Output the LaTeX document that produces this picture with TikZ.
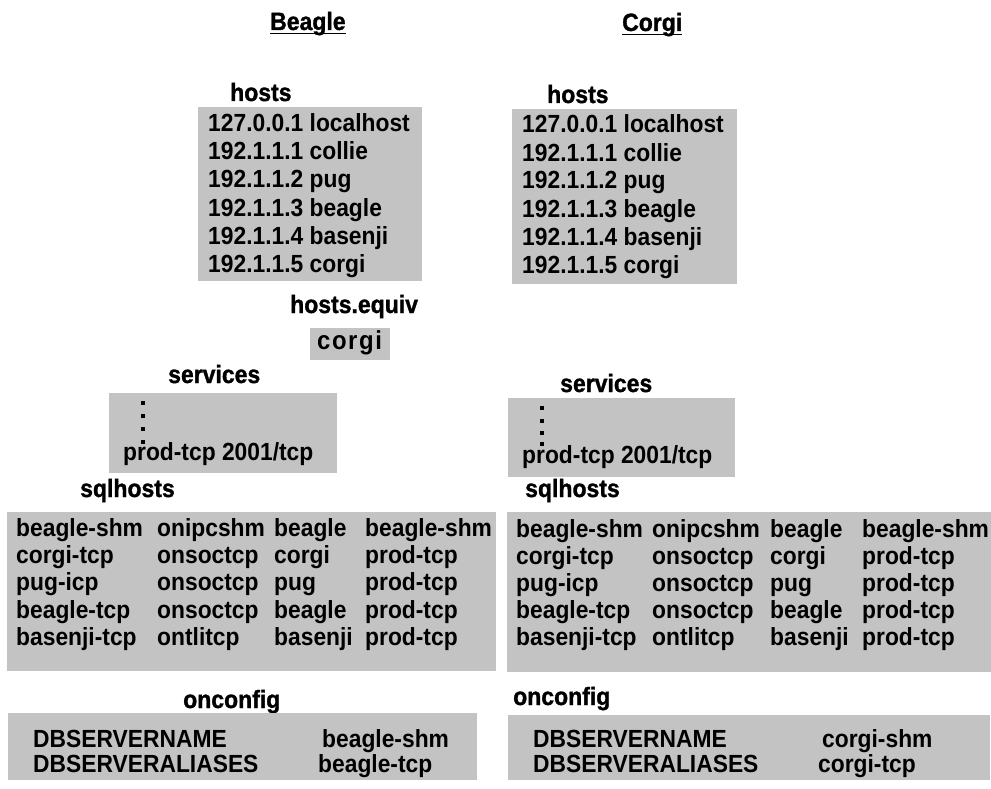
\documentclass[tikz,border=0pt]{standalone}
\usepackage{fontspec}
\setmainfont{Liberation Sans}[FakeStretch=0.92]
\newfontfamily\lblfont{Liberation Sans Bold}[FakeBold=1.2,FakeStretch=0.92]
\definecolor{boxgray}{RGB}{195,195,195}
\begin{document}
\begin{tikzpicture}[x=1pt,y=-1pt,
  txt/.style={anchor=base west, inner sep=0pt, font=\fontsize{24.8}{28}\selectfont\bfseries},
  lbl/.style={anchor=base west, inner sep=0pt, font=\fontsize{25}{28}\selectfont\lblfont},
  panel/.style={fill=boxgray},
  dot/.style={fill=black}]
\useasboundingbox (0,0) rectangle (991,789);

% ---------- titles ----------
\node[lbl] (tb) at (270,30) {Beagle};
\draw[line width=1.5pt] ([yshift=-3.5pt]tb.base west) -- ([yshift=-3.5pt]tb.base east);
\node[lbl] (tc) at (622,31) {Corgi};
\draw[line width=1.5pt] ([yshift=-3.5pt]tc.base west) -- ([yshift=-3.5pt]tc.base east);

% ---------- hosts ----------
\fill[panel] (198,107) rectangle (422,281);
\fill[panel] (512,109) rectangle (737,284);
\node[lbl] (hb) at (230,101) {hosts};
\node[lbl] (hc) at (547,103) {hosts};
\foreach \t [count=\i] in {127.0.0.1 localhost, 192.1.1.1 collie, 192.1.1.2 pug,
    192.1.1.3 beagle, 192.1.1.4 basenji, 192.1.1.5 corgi} {
  \node[txt] (hbl\i) at (208,{132+28*(\i-1)}) {\t};
  \node[txt] (hcl\i) at (522,{133+28*(\i-1)}) {\t};
}

% ---------- hosts.equiv ----------
\node[lbl] (he) at (290,313) {hosts.equiv};
\fill[panel] (310,328) rectangle (390,360);
\node[anchor=base west, inner sep=0pt, font=\fontsize{26}{28}\selectfont\bfseries\addfontfeature{LetterSpace=6}] (hev) at (317,349) {corgi};

% ---------- services ----------
\node[lbl] (sb) at (168,383) {services};
\fill[panel] (109,393) rectangle (337,473);
\foreach \yy in {401,414,427,440} \fill[dot] (141,\yy) rectangle (145,\yy+4);
\node[txt] (sbt) at (123,460) {prod-tcp 2001/tcp};

\node[lbl] (sc) at (560,392) {services};
\fill[panel] (508,398) rectangle (735,477);
\foreach \yy in {406,419,431,442} \fill[dot] (540,\yy) rectangle (544,\yy+4);
\node[txt] (sct) at (522,463) {prod-tcp 2001/tcp};

% ---------- sqlhosts ----------
\node[lbl] (qb) at (80,497) {sqlhosts};
\node[lbl] (qc) at (525,497) {sqlhosts};
\fill[panel] (7,512) rectangle (496,671);
\fill[panel] (507,512) rectangle (991,672);
\foreach \a/\b/\c/\d [count=\i] in {
    beagle-shm/onipcshm/beagle/beagle-shm,
    corgi-tcp/onsoctcp/corgi/prod-tcp,
    pug-icp/onsoctcp/pug/prod-tcp,
    beagle-tcp/onsoctcp/beagle/prod-tcp,
    basenji-tcp/ontlitcp/basenji/prod-tcp} {
  \node[txt] (qba\i) at (16,{536+27.4*(\i-1)}) {\a};
  \node[txt] (qbb\i) at (157,{536+27.4*(\i-1)}) {\b};
  \node[txt] (qbc\i) at (274,{536+27.4*(\i-1)}) {\c};
  \node[txt] (qbd\i) at (365,{536+27.4*(\i-1)}) {\d};
  \node[txt] (qca\i) at (516,{537+27.2*(\i-1)}) {\a};
  \node[txt] (qcb\i) at (652,{537+27.2*(\i-1)}) {\b};
  \node[txt] (qcc\i) at (770,{537+27.2*(\i-1)}) {\c};
  \node[txt] (qcd\i) at (862,{537+27.2*(\i-1)}) {\d};
}

% ---------- onconfig ----------
\node[lbl] (ob) at (183,708) {onconfig};
\node[lbl] (oc) at (513,705) {onconfig};
\fill[panel] (8,713) rectangle (477,780);
\fill[panel] (508,715) rectangle (990,780);
\node[txt] (ob1) at (33,747) {DBSERVERNAME};
\node[txt] (ob2) at (33,772) {DBSERVERALIASES};
\node[txt] (ob3) at (322,747) {beagle-shm};
\node[txt] (ob4) at (318,772) {beagle-tcp};
\node[txt] (oc1) at (533,747) {DBSERVERNAME};
\node[txt] (oc2) at (533,772) {DBSERVERALIASES};
\node[txt] (oc3) at (822,747) {corgi-shm};
\node[txt] (oc4) at (818,772) {corgi-tcp};
\end{tikzpicture}
\end{document}
